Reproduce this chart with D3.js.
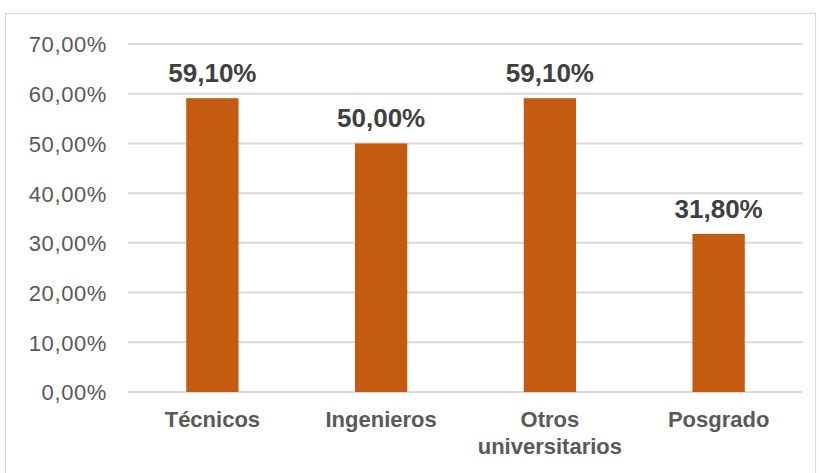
<!DOCTYPE html>
<html>
<head>
<meta charset="utf-8">
<script src="https://cdn.jsdelivr.net/npm/d3@7"></script>
<style>
  html, body { margin: 0; padding: 0; background: #fff; }
  svg { display: block; font-family: "Liberation Sans", Arial, sans-serif; }
</style>
</head>
<body>
<svg id="chart" width="819" height="473"></svg>
<script>
// Share of each education group (percent)
const categories = [["Técnicos"], ["Ingenieros"], ["Otros", "universitarios"], ["Posgrado"]];
const values = [59.1, 50.0, 59.1, 31.8];
const yTicks = [0, 10, 20, 30, 40, 50, 60, 70];

const fmt = v => v.toFixed(2).replace(".", ",") + "%";

const svg = d3.select("#chart");
const margin = { left: 128, right: 16, top: 44, bottom: 81 };
const W = 819, H = 473;

// Outer frame of the chart area
svg.append("rect")
  .attr("x", 5.5).attr("y", 13.5)
  .attr("width", 810).attr("height", 470)
  .attr("fill", "#fff")
  .attr("stroke", "#d9d9d9").attr("stroke-width", 1.2);

const x = d3.scaleBand()
  .domain(d3.range(categories.length))
  .range([margin.left, W - margin.right])
  .paddingInner(0.69).paddingOuter(0.345);

const y = d3.scaleLinear().domain([0, 70]).range([H - margin.bottom, margin.top]);

// Horizontal gridlines
svg.append("g").selectAll("line").data(yTicks).join("line")
  .attr("x1", margin.left).attr("x2", W - margin.right)
  .attr("y1", d => y(d)).attr("y2", d => y(d))
  .attr("stroke", "#d9d9d9").attr("stroke-width", 2);

// Y axis labels
const yAxis = d3.axisLeft(y).tickValues(yTicks).tickFormat(fmt).tickSize(0).tickPadding(0);
const gy = svg.append("g").attr("transform", `translate(107,0)`).call(yAxis);
gy.select(".domain").remove();
gy.selectAll("text")
  .attr("fill", "#595959")
  .style("font-size", "22px")
  .style("font-family", "'Liberation Sans', Arial, sans-serif")
  .style("letter-spacing", "0.6px")
  .attr("dy", "0.36em");

// Bars
svg.append("g").selectAll("rect").data(values).join("rect")
  .attr("x", (d, i) => x(i))
  .attr("width", x.bandwidth())
  .attr("y", d => y(d))
  .attr("height", d => y(0) - y(d))
  .attr("fill", "#c55a11");

// Value labels
svg.append("g").selectAll("text").data(values).join("text")
  .attr("x", (d, i) => x(i) + x.bandwidth() / 2)
  .attr("y", d => y(d) - 16)
  .attr("text-anchor", "middle")
  .attr("fill", "#404040")
  .style("font-size", "26px")
  .style("font-weight", "bold")
  .text(d => fmt(d));

// Category labels
const cat = svg.append("g").selectAll("text").data(categories).join("text")
  .attr("x", (d, i) => x(i) + x.bandwidth() / 2)
  .attr("y", 427)
  .attr("text-anchor", "middle")
  .attr("fill", "#595959")
  .style("font-size", "22px")
  .style("font-weight", "bold");
cat.selectAll("tspan").data(d => d).join("tspan")
  .attr("x", function () { return d3.select(this.parentNode).attr("x"); })
  .attr("dy", (d, i) => i === 0 ? 0 : 27)
  .text(d => d);
</script>
</body>
</html>
